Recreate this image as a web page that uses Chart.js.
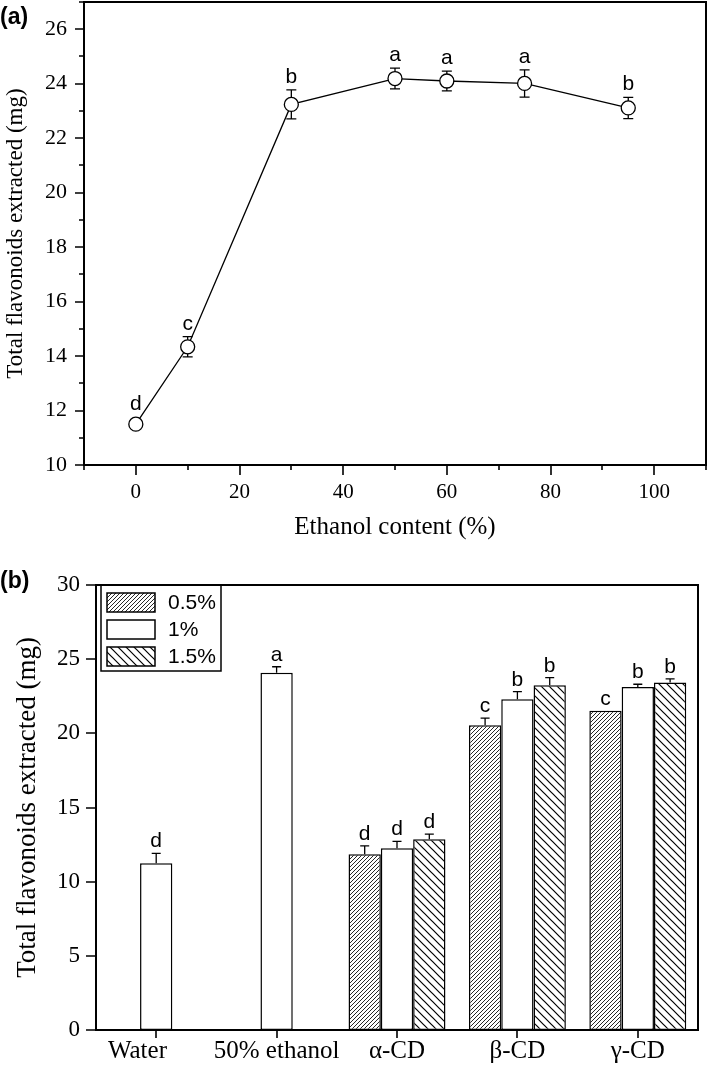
<!DOCTYPE html>
<html>
<head>
<meta charset="utf-8">
<script src="https://cdn.jsdelivr.net/npm/chart.js@4"></script>
<style>
  html, body { margin: 0; padding: 0; background: #fff; }
  #wrap { position: relative; width: 709px; height: 1073px; overflow: hidden; }
  .panel { position: absolute; left: 0; }
  .tag { position: absolute; left: 0; font: bold 23px 'Liberation Sans', Arial, sans-serif; color: #000; }
</style>
</head>
<body>
<div id="wrap">
  <canvas id="chartA" class="panel" width="709" height="545" style="top:0"></canvas>
  <canvas id="chartB" class="panel" width="709" height="528" style="top:545px"></canvas>
  <div class="tag" style="top:3px">(a)</div>
  <div class="tag" style="top:567px">(b)</div>
</div>
<script>
// (a) ethanol content series
const ethanolPct = [0, 10, 30, 50, 60, 75, 95];
const tfeMeans   = [11.5, 14.34, 23.24, 24.19, 24.10, 24.01, 23.11];
const tfeErrors  = [0.15, 0.37, 0.53, 0.38, 0.36, 0.50, 0.39];
const tfeLetters = ['d', 'c', 'b', 'a', 'a', 'a', 'b'];
const xTicksA = [0, 20, 40, 60, 80, 100];
const xMinorA = [-10, 10, 30, 50, 70, 90, 110];
const yTicksA = [10, 12, 14, 16, 18, 20, 22, 24, 26];
const yMinorA = [11, 13, 15, 17, 19, 21, 23, 25, 27];

// (b) cyclodextrin series
const groupLabels = ['Water', '50% ethanol', 'α-CD', 'β-CD', 'γ-CD'];
const seriesNames = ['0.5%', '1%', '1.5%'];
const cd05 = [null, null, 11.85, 20.55, 21.53];
const cd1  = [11.24, 24.09, 12.25, 22.30, 23.13];
const cd15 = [null, null, 12.86, 23.24, 23.42];
const err05 = [null, null, 0.56, 0.47, 0];
const err1  = [0.67, 0.40, 0.47, 0.51, 0.18];
const err15 = [null, null, 0.34, 0.51, 0.25];
const let05 = [null, null, 'd', 'c', 'c'];
const let1  = ['d', 'a', 'd', 'b', 'b'];
const let15 = [null, null, 'd', 'b', 'b'];
const yTicksB = [0, 5, 10, 15, 20, 25, 30];

const SERIF = "'Liberation Serif', 'Times New Roman', serif";
const SANS = "'Liberation Sans', Arial, sans-serif";

// fixed axis box sizes, no label overflow padding
function fixBox(w, h) {
  return s => {
    if (w != null) s.width = w;
    if (h != null) s.height = h;
    s.paddingTop = s.paddingBottom = s.paddingLeft = s.paddingRight = 0;
  };
}

// box + outward tick marks, drawn from the chart's own scales
function frameTicks(id, spec) {
  return {
    id,
    afterDraw(chart) {
      const { ctx, chartArea: a, scales } = chart;
      ctx.save();
      ctx.strokeStyle = '#000';
      ctx.lineWidth = 2;
      ctx.strokeRect(a.left, a.top, a.right - a.left, a.bottom - a.top);
      ctx.lineWidth = 1.6;
      ctx.beginPath();
      for (const [vals, len] of spec.x) {
        for (const v of vals) {
          const px = Math.round(scales.x.getPixelForValue(v));
          ctx.moveTo(px, a.bottom); ctx.lineTo(px, a.bottom + len);
        }
      }
      for (const [vals, len] of spec.y) {
        for (const v of vals) {
          const py = Math.round(scales.y.getPixelForValue(v));
          ctx.moveTo(a.left, py); ctx.lineTo(a.left - len, py);
        }
      }
      ctx.stroke();
      ctx.restore();
    }
  };
}

const errorBarsA = {
  id: 'errorBarsA',
  beforeDatasetsDraw(chart) {
    const { ctx, scales: { x, y } } = chart;
    ctx.save();
    ctx.strokeStyle = '#000';
    ctx.lineWidth = 1.3;
    ctx.beginPath();
    ethanolPct.forEach((v, i) => {
      const px = x.getPixelForValue(v);
      const top = y.getPixelForValue(tfeMeans[i] + tfeErrors[i]);
      const bot = y.getPixelForValue(tfeMeans[i] - tfeErrors[i]);
      ctx.moveTo(px, top); ctx.lineTo(px, bot);
      ctx.moveTo(px - 5, top); ctx.lineTo(px + 5, top);
      ctx.moveTo(px - 5, bot); ctx.lineTo(px + 5, bot);
    });
    ctx.stroke();
    ctx.restore();
  },
  afterDatasetsDraw(chart) {
    const { ctx, scales: { x, y } } = chart;
    ctx.save();
    ctx.fillStyle = '#000';
    ctx.font = '21px ' + SANS;
    ctx.textAlign = 'center';
    ctx.textBaseline = 'alphabetic';
    ethanolPct.forEach((v, i) => {
      const px = x.getPixelForValue(v);
      const top = Math.min(y.getPixelForValue(tfeMeans[i] + tfeErrors[i]), y.getPixelForValue(tfeMeans[i]) - 7);
      ctx.fillText(tfeLetters[i], px, top - 7);
    });
    ctx.restore();
  }
};

new Chart(document.getElementById('chartA'), {
  type: 'scatter',
  data: {
    datasets: [{
      data: ethanolPct.map((x, i) => ({ x, y: tfeMeans[i] })),
      showLine: true,
      borderColor: '#000',
      borderWidth: 1.3,
      pointRadius: 7,
      pointHoverRadius: 7,
      pointBackgroundColor: '#fff',
      pointBorderColor: '#000',
      pointBorderWidth: 1.3,
      clip: false,
    }]
  },
  options: {
    responsive: false,
    animation: false,
    events: [],
    layout: { autoPadding: false, padding: { top: 2, right: 3, left: 0, bottom: 0 } },
    plugins: { legend: { display: false }, tooltip: { enabled: false } },
    scales: {
      x: {
        type: 'linear', min: -10, max: 110,
        afterBuildTicks: s => { s.ticks = xTicksA.map(value => ({ value })); },
        afterFit: fixBox(null, 80),
        grid: { display: false, drawTicks: false },
        border: { display: false },
        ticks: { color: '#000', padding: 17, maxRotation: 0, font: { family: SERIF, size: 21, lineHeight: 1 } },
        title: { display: true, text: 'Ethanol content (%)', color: '#000', padding: { top: 0, bottom: 5 },
                 font: { family: SERIF, size: 25, lineHeight: 1 } },
      },
      y: {
        min: 10, max: 27,
        afterBuildTicks: s => { s.ticks = yTicksA.map(value => ({ value })); },
        afterFit: fixBox(84, null),
        grid: { display: false, drawTicks: false },
        border: { display: false },
        ticks: { color: '#000', padding: 17, font: { family: SERIF, size: 22 } },
        title: { display: true, text: 'Total flavonoids extracted (mg)', color: '#000', padding: { top: 4, bottom: 0 },
                 font: { family: SERIF, size: 23, lineHeight: 1 } },
      }
    }
  },
  plugins: [errorBarsA, frameTicks('frameA', { x: [[xTicksA, 10], [xMinorA, 5]], y: [[yTicksA, 9], [yMinorA, 5]] })]
});

// hatch fills
function hatch(ctx, size, dir, lw) {
  const c = document.createElement('canvas');
  c.width = c.height = size;
  const g = c.getContext('2d');
  g.fillStyle = '#fff';
  g.fillRect(0, 0, size, size);
  g.strokeStyle = '#000';
  g.lineWidth = lw;
  g.beginPath();
  if (dir === '/') {
    g.moveTo(-1, size + 1); g.lineTo(size + 1, -1);
    g.moveTo(-1, 1); g.lineTo(1, -1);
    g.moveTo(size - 1, size + 1); g.lineTo(size + 1, size - 1);
  } else {
    g.moveTo(-1, -1); g.lineTo(size + 1, size + 1);
    g.moveTo(size - 1, -1); g.lineTo(size + 1, 1);
    g.moveTo(-1, size - 1); g.lineTo(1, size + 1);
  }
  g.stroke();
  return ctx.createPattern(c, 'repeat');
}

const ctxB = document.getElementById('chartB').getContext('2d');
const fill05 = hatch(ctxB, 4, '/', 0.85);
const fill15 = hatch(ctxB, 8, '\\', 1.2);

const barErrors = [err05, err1, err15];
const barLetters = [let05, let1, let15];

const errorBarsB = {
  id: 'errorBarsB',
  afterDatasetsDraw(chart) {
    const { ctx, scales: { y } } = chart;
    ctx.save();
    ctx.strokeStyle = '#000';
    ctx.fillStyle = '#000';
    ctx.lineWidth = 1.3;
    ctx.font = '21px ' + SANS;
    ctx.textAlign = 'center';
    ctx.textBaseline = 'alphabetic';
    chart.data.datasets.forEach((ds, d) => {
      const meta = chart.getDatasetMeta(d);
      ds.data.forEach((v, i) => {
        if (v == null) return;
        const bar = meta.data[i];
        const e = barErrors[d][i] || 0;
        const top = y.getPixelForValue(v + e);
        if (e > 0) {
          ctx.beginPath();
          ctx.moveTo(bar.x, bar.y); ctx.lineTo(bar.x, top);
          ctx.moveTo(bar.x - 4.5, top); ctx.lineTo(bar.x + 4.5, top);
          ctx.stroke();
        }
        ctx.fillText(barLetters[d][i], bar.x, top - 6);
      });
    });
    ctx.restore();
  }
};

const legendB = {
  id: 'legendB',
  afterDraw(chart) {
    const { ctx, chartArea: a } = chart;
    const x0 = a.left + 5, y0 = a.top;
    ctx.save();
    ctx.fillStyle = '#fff';
    ctx.fillRect(x0, y0, 120, 86);
    ctx.strokeStyle = '#000';
    ctx.lineWidth = 1.5;
    ctx.strokeRect(x0, y0, 120, 86);
    ctx.font = '21px ' + SANS;
    ctx.textBaseline = 'middle';
    chart.data.datasets.forEach((ds, i) => {
      const sy = y0 + 8 + i * 27;
      ctx.fillStyle = ds.backgroundColor;
      ctx.fillRect(x0 + 6, sy, 48, 19);
      ctx.lineWidth = 1.5;
      ctx.strokeRect(x0 + 6, sy, 48, 19);
      ctx.fillStyle = '#000';
      ctx.fillText(ds.label, x0 + 67, sy + 10);
    });
    ctx.restore();
  }
};

const barStyle = { borderColor: '#000', borderWidth: 1.5, borderSkipped: false, categoryPercentage: 0.805, barPercentage: 1.0 };

new Chart(ctxB, {
  type: 'bar',
  data: {
    labels: groupLabels,
    datasets: [
      { label: seriesNames[0], data: cd05, backgroundColor: fill05, ...barStyle },
      { label: seriesNames[1], data: cd1, backgroundColor: '#fff', ...barStyle },
      { label: seriesNames[2], data: cd15, backgroundColor: fill15, ...barStyle },
    ]
  },
  options: {
    responsive: false,
    animation: false,
    events: [],
    layout: { autoPadding: false, padding: { top: 40, right: 11, left: 0, bottom: 0 } },
    plugins: { legend: { display: false }, tooltip: { enabled: false } },
    scales: {
      x: {
        offset: true,
        afterFit: fixBox(null, 43),
        grid: { display: false, drawTicks: false },
        border: { display: false },
        ticks: {
          color: '#000', padding: 9, autoSkip: false, maxRotation: 0, minRotation: 0,
          font: { family: SERIF, size: 25, lineHeight: 1 },
          // the original sets "Water" left of its tick
          callback: (v, i) => i === 0 ? groupLabels[i] + '\u2003\u2002' : groupLabels[i],
        },
      },
      y: {
        min: 0, max: 30,
        afterBuildTicks: s => { s.ticks = yTicksB.map(value => ({ value })); },
        afterFit: fixBox(96, null),
        grid: { display: false, drawTicks: false },
        border: { display: false },
        ticks: { color: '#000', padding: 16, font: { family: SERIF, size: 23 } },
        title: { display: true, text: 'Total flavonoids extracted (mg)', color: '#000', padding: { top: 14, bottom: 0 },
                 font: { family: SERIF, size: 27, lineHeight: 1 } },
      }
    }
  },
  plugins: [errorBarsB, legendB, frameTicks('frameB', { x: [[groupLabels.map((_, i) => i), 8]], y: [[yTicksB, 10]] })]
});
</script>
</body>
</html>
